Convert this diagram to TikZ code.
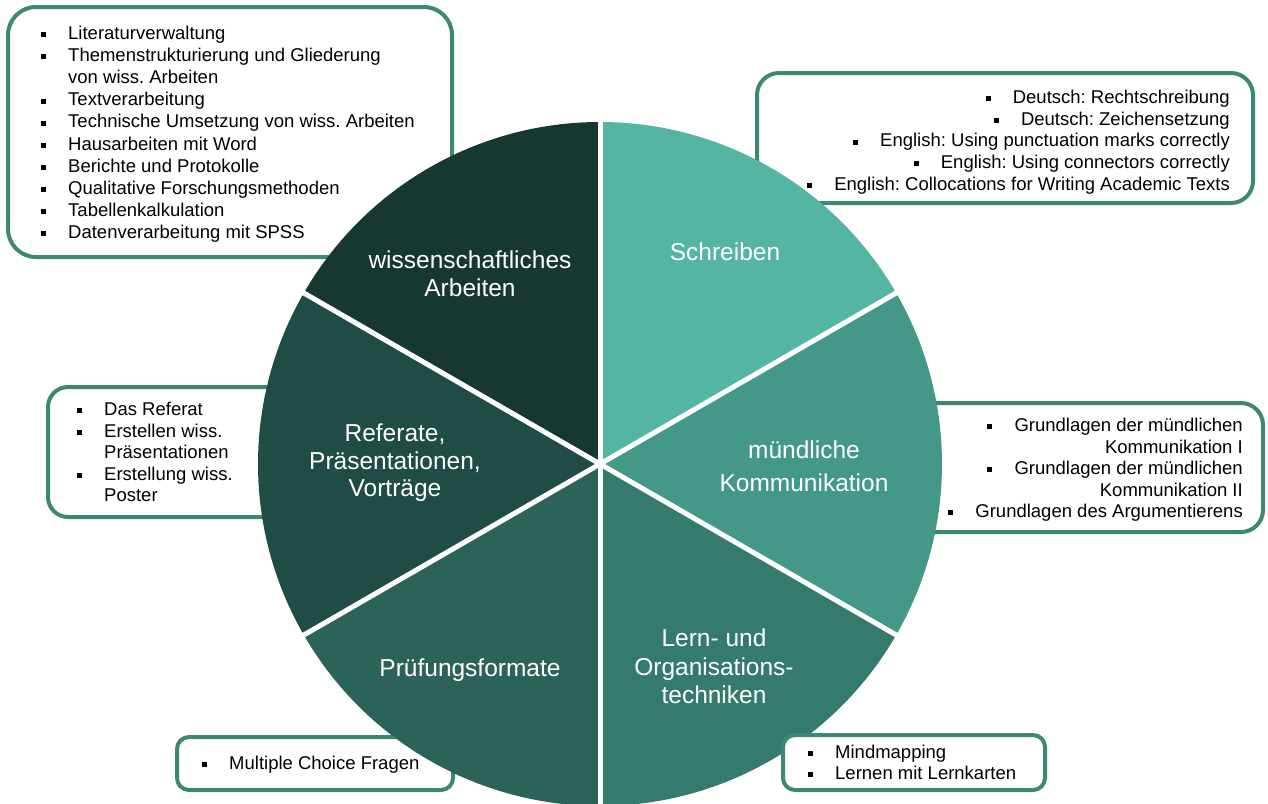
\documentclass[tikz,border=0pt]{standalone}
\usepackage{fontspec}
\setmainfont{Liberation Sans}
\definecolor{cA}{RGB}{22,56,49}
\definecolor{cB}{RGB}{31,77,69}
\definecolor{cC}{RGB}{43,99,89}
\definecolor{cD}{RGB}{53,123,109}
\definecolor{cE}{RGB}{67,152,135}
\definecolor{cF}{RGB}{84,182,162}
\definecolor{boxframe}{RGB}{61,135,115}
\newcommand\bul{\rule[2.3pt]{5pt}{5pt}}
\newcommand\bi{\makebox[27pt][l]{\bul}}
\newcommand\ci{\makebox[27pt][l]{}}
\newcommand\br{\bul\hspace{22pt}}
\frenchspacing
\begin{document}
\begin{tikzpicture}[x=1pt,y=-1pt,
  listbox/.style={draw=boxframe, line width=4pt, fill=white},
  listtext/.style={inner sep=0pt, text=black},
  pielabel/.style={inner sep=0pt, text=white}]
\useasboundingbox (0,0) rectangle (1268,803);
\clip (0,0) rectangle (1268,803);
% boxes behind the pie
\draw[listbox, rounded corners=28pt] (8,7) rectangle (452,257);
\draw[listbox, rounded corners=22pt] (757,73) rectangle (1253,203);
\draw[listbox, rounded corners=20pt] (48,387) rectangle (320,517);
\draw[listbox, rounded corners=22pt] (880,403) rectangle (1263,532);
\draw[listbox, rounded corners=12pt] (177,737) rectangle (453,790);
% texts of boxes
\node[listtext, anchor=base west] (t1) at (41,39.5) {\fontsize{18.5}{22.1}\selectfont\frenchspacing\begin{tabular}[t]{@{}l@{}}
\bi Literaturverwaltung\\
\bi Themenstrukturierung und Gliederung\\
\ci von wiss. Arbeiten\\
\bi Textverarbeitung\\
\bi Technische Umsetzung von wiss. Arbeiten\\
\bi Hausarbeiten mit Word\\
\bi Berichte und Protokolle\\
\bi Qualitative Forschungsmethoden\\
\bi Tabellenkalkulation\\
\bi Datenverarbeitung mit SPSS
\end{tabular}};
\node[listtext, anchor=base east] (t2) at (1230,103.2) {\fontsize{18.5}{21.8}\selectfont\frenchspacing\begin{tabular}[t]{@{}r@{}}
\br Deutsch: Rechtschreibung\\
\br Deutsch: Zeichensetzung\\
\br English: Using punctuation marks correctly\\
\br English: Using connectors correctly\\
\br English: Collocations for Writing Academic Texts
\end{tabular}};
\node[listtext, anchor=base west] (t3) at (77,415.5) {\fontsize{18.5}{21.5}\selectfont\frenchspacing\begin{tabular}[t]{@{}l@{}}
\bi Das Referat\\
\bi Erstellen wiss.\\
\ci Präsentationen\\
\bi Erstellung wiss.\\
\ci Poster
\end{tabular}};
\node[listtext, anchor=base east] (t4) at (1243,431.5) {\fontsize{18.5}{21.5}\selectfont\frenchspacing\begin{tabular}[t]{@{}r@{}}
\br Grundlagen der mündlichen\\
Kommunikation I\\
\br Grundlagen der mündlichen\\
Kommunikation II\\
\br Grundlagen des Argumentierens
\end{tabular}};
\node[listtext, anchor=base west] (t5) at (202,769.5) {\fontsize{18.5}{21.5}\selectfont\bi Multiple Choice Fragen};
% pie
\coordinate (C) at (600,464);
\fill[cA] (C) -- ++(210:342) arc[start angle=210, end angle=270, radius=342] -- cycle;
\fill[cF] (C) -- ++(270:342) arc[start angle=270, end angle=330, radius=342] -- cycle;
\fill[cE] (C) -- ++(330:342) arc[start angle=330, end angle=390, radius=342] -- cycle;
\fill[cD] (C) -- ++(30:342) arc[start angle=30, end angle=90, radius=342] -- cycle;
\fill[cC] (C) -- ++(90:342) arc[start angle=90, end angle=150, radius=342] -- cycle;
\fill[cB] (C) -- ++(150:342) arc[start angle=150, end angle=210, radius=342] -- cycle;
\foreach \a in {30,90,150,210,270,330}
  \draw[white, line width=5pt] (C) -- ++(\a:346);
% pie labels
\node[pielabel, anchor=base] (lA) at (470,268.6) {\fontsize{24.5}{27.7}\selectfont\begin{tabular}[t]{@{}c@{}}wissenschaftliches\\Arbeiten\end{tabular}};
\node[pielabel, anchor=base] (lF) at (725,260.6) {\fontsize{24.5}{27.7}\selectfont Schreiben};
\node[pielabel, anchor=base] (lB) at (395,441.2) {\fontsize{24.5}{27.8}\selectfont\begin{tabular}[t]{@{}c@{}}Referate,\\Präsentationen,\\Vorträge\end{tabular}};
\node[pielabel, anchor=base] (lE) at (804,458.6) {\fontsize{24.5}{33}\selectfont\begin{tabular}[t]{@{}c@{}}mündliche\\Kommunikation\end{tabular}};
\node[pielabel, anchor=base] (lC) at (470,676.6) {\fontsize{24.5}{27.7}\selectfont Prüfungsformate};
\node[pielabel, anchor=base] (lD) at (714,646.6) {\fontsize{24.5}{28.5}\selectfont\begin{tabular}[t]{@{}c@{}}Lern- und\\Organisations-\\techniken\end{tabular}};
% box in front of the pie
\draw[listbox, rounded corners=12pt] (783,735) rectangle (1045,790);
\node[listtext, anchor=base west] (t6) at (808,758.5) {\fontsize{18.5}{21}\selectfont\begin{tabular}[t]{@{}l@{}}
\bi Mindmapping\\
\bi Lernen mit Lernkarten
\end{tabular}};
\end{tikzpicture}
\end{document}
